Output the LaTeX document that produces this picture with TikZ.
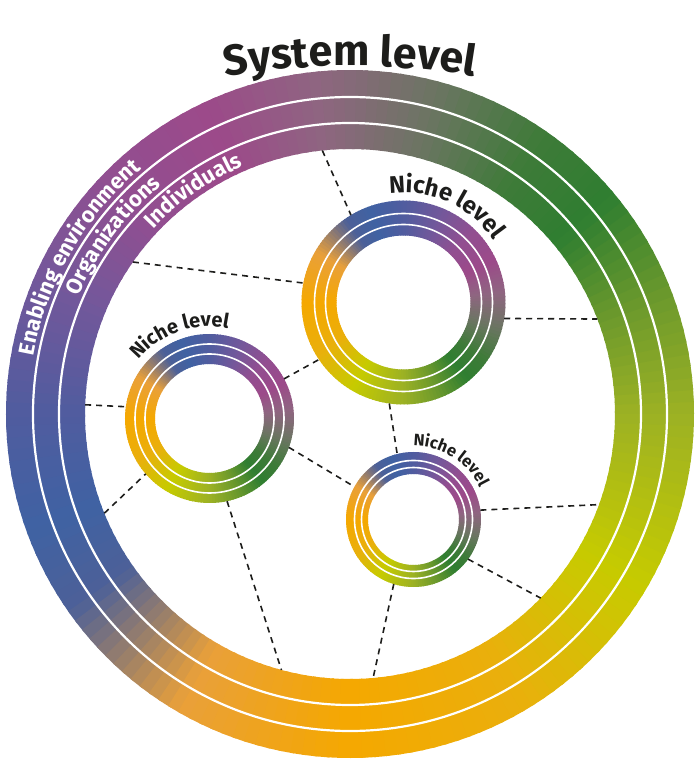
\documentclass[tikz,border=0pt]{standalone}
\usepackage{fontspec}
\setmainfont{Fira Sans}
\usetikzlibrary{positioning,decorations.text}

\definecolor{inkdark}{HTML}{1D1D1B}
\definecolor{st0}{HTML}{505C9F}
\definecolor{st1}{HTML}{3F62A3}
\definecolor{st2}{HTML}{4D6098}
\definecolor{st3}{HTML}{E9A03A}
\definecolor{st4}{HTML}{F5A800}
\definecolor{st5}{HTML}{EAAF0C}
\definecolor{st6}{HTML}{C6CB00}
\definecolor{st7}{HTML}{9CB124}
\definecolor{st8}{HTML}{6D9A2C}
\definecolor{st9}{HTML}{2F7E31}
\definecolor{st10}{HTML}{3E7B38}
\definecolor{st11}{HTML}{6B7562}
\definecolor{st12}{HTML}{8E6680}
\definecolor{st13}{HTML}{9C4A8A}
\definecolor{st14}{HTML}{924E90}
\definecolor{st15}{HTML}{76579A}
\colorlet{st16}{st0}

\newcommand{\titlefont}{\fontsize{43}{43}\selectfont\bfseries}
\newcommand{\ringfont}{\fontsize{22}{22}\selectfont\bfseries}

% colour wheel ring round a node: #1 node, #2 outer radius, #3 inner radius, #4 turn
\newcommand{\ringshade}[4]{%
  \foreach \ta/\tb/\ca/\cb in {-180/-160/st0/st1, -160/-145/st1/st2, -145/-120/st2/st3,
      -120/-90/st3/st4, -90/-60/st4/st5, -60/-30/st5/st6, -30/0/st6/st7, 0/20/st7/st8,
      20/40/st8/st9, 40/55/st9/st10, 55/75/st10/st11, 75/95/st11/st12, 95/115/st12/st13,
      115/135/st13/st14, 135/155/st14/st15, 155/180/st15/st16}{
    \pgfmathtruncatemacro{\nseg}{max(1,round((\tb-\ta)/2))}
    \foreach \k in {1,...,\nseg}{
      \pgfmathsetmacro{\sa}{\ta+(\k-1)*(\tb-\ta)/\nseg+#4}
      \pgfmathsetmacro{\sb}{\ta+\k*(\tb-\ta)/\nseg+#4+0.6}
      \pgfmathtruncatemacro{\pc}{100-100*(\k-0.5)/\nseg}
      \colorlet{wedgecol}{\ca!\pc!\cb}
      \fill[wedgecol, shift={(#1)}] (\sa:#3pt) arc[start angle=\sa, end angle=\sb, radius=#3pt]
        -- (\sb:#2pt) arc[start angle=\sb, end angle=\sa, radius=#2pt] -- cycle;
    }
  }
}

\begin{document}
\begin{tikzpicture}
    [x=1pt, y=1pt,
     hub/.style={circle, inner sep=0pt, outer sep=0pt},
     link/.style={draw=inkdark, line width=1.6pt, dash pattern=on 6pt off 5pt},
     sep/.style={draw=white, line width=2.2pt},
     thinsep/.style={draw=white, line width=1.6pt}]

    \useasboundingbox (-350,-345) rectangle (350,414);

    \node[hub, minimum size=530pt] (system) at (0,0) {};
    \node[hub, minimum size=204pt] (nicheA) at (53.5,111.5) {};
    \node[hub, minimum size=169pt] (nicheB) at (-140.5,-4.5) {};
    \node[hub, minimum size=135pt] (nicheC) at (63.5,-105.5) {};

    % rings
    \ringshade{system}{344}{265}{0}
    \ringshade{nicheA}{102}{67}{-90}
    \ringshade{nicheB}{84.5}{54.5}{-90}
    \ringshade{nicheC}{67.5}{45.5}{-90}

    \foreach \r in {317,291} \draw[sep] (system) circle[radius=\r pt];
    \foreach \r in {89,78} \draw[thinsep] (nicheA) circle[radius=\r pt];
    \foreach \r in {74.5,64.5} \draw[thinsep] (nicheB) circle[radius=\r pt];
    \foreach \r in {59,52} \draw[thinsep] (nicheC) circle[radius=\r pt];

    % dashed links
    \draw[link] (system.96) -- (nicheA.121);
    \draw[link] (system.145) -- (nicheA.169);
    \draw[link] (nicheA.-9) -- (system.21);
    \draw[link] (nicheB.28) -- (nicheA.214);
    \draw[link] (nicheA.-98) -- (nicheC.104);
    \draw[link] (system.178) -- (nicheB.172);
    \draw[link] (system.202) -- (nicheB.221);
    \draw[link] (nicheB.-78) -- (system.255);
    \draw[link] (nicheB.-20) -- (nicheC.151);
    \draw[link] (nicheC.8) -- (system.-20);
    \draw[link] (nicheC.-36) -- (system.-44);
    \draw[link] (nicheC.-107) -- (system.-85);

    % curved labels
    \path[decorate, decoration={text along path, text align=center, text color=inkdark,
        text={|\titlefont|System level}}]
      ([shift={(0,-417)}]100:765pt) arc[start angle=100, end angle=80, radius=765pt];
    \path[decorate, decoration={text along path, text align=center, text color=white,
        text={|\ringfont|Enabling environment}}]
      (200:322pt) arc[start angle=200, end angle=100, radius=322pt];
    \path[decorate, decoration={text along path, text align=center, text color=white,
        text={|\ringfont|Organizations}}]
      (193:296pt) arc[start angle=193, end angle=93, radius=296pt];
    \path[decorate, decoration={text along path, text align=center, text color=white,
        text={|\ringfont|Individuals}}]
      (175:270pt) arc[start angle=175, end angle=75, radius=270pt];
    \path[decorate, decoration={text along path, text align=center, text color=inkdark,
        text={|\fontsize{24}{24}\selectfont\bfseries|Niche level}}]
      ([shift={(nicheA)}]140:110pt) arc[start angle=140, end angle=-8, radius=110pt];
    \path[decorate, decoration={text along path, text align=center, text color=inkdark,
        text={|\fontsize{20}{20}\selectfont\bfseries|Niche level}}]
      ([shift={(nicheB)}]180:92pt) arc[start angle=180, end angle=39, radius=92pt];
    \path[decorate, decoration={text along path, text align=center, text color=inkdark,
        text={|\fontsize{16.5}{16.5}\selectfont\bfseries|Niche level}}]
      ([shift={(nicheC)}]130:73.5pt) arc[start angle=130, end angle=-14, radius=73.5pt];
\end{tikzpicture}
\end{document}
